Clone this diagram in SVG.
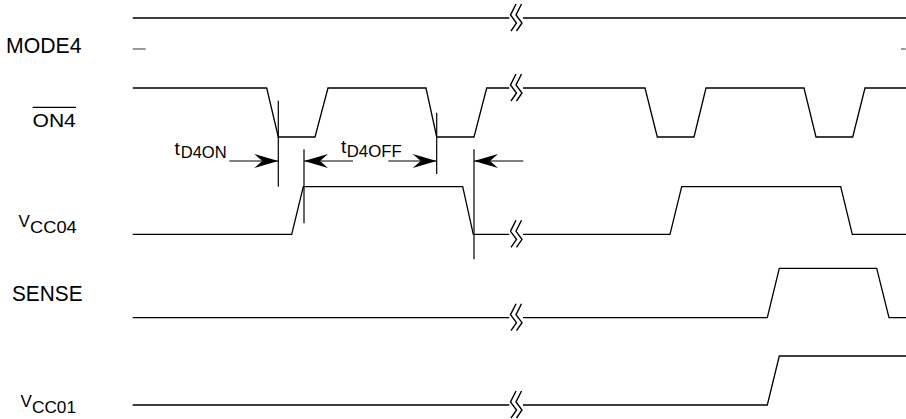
<svg xmlns="http://www.w3.org/2000/svg" xmlns:xlink="http://www.w3.org/1999/xlink" width="906" height="419" viewBox="0 0 906 419">
<style>
.w{fill:none;stroke:#000;stroke-width:1.3;stroke-linejoin:miter}
.m{fill:none;stroke:#000;stroke-width:1.2}
.b{fill:none;stroke:#000;stroke-width:1.4}
.lbl{font-family:"Liberation Sans",Arial,sans-serif;fill:#000}
.dash{stroke:#777;stroke-width:1.5}
</style>
<defs>
<path id="brk" class="b" d="M1,-14 L-4.5,-3 L1.5,5 L-4,13 M6.5,-14 L1,-3 L7,5 L1.5,13"/>
<marker id="ah" markerUnits="userSpaceOnUse" markerWidth="30" markerHeight="20" viewBox="-26 -10 30 20" refX="0" refY="0" orient="auto">
<path d="M0,0 L-24,-7 L-16,0 L-24,7 Z" fill="#000"/>
</marker>
</defs>
<rect width="906" height="419" fill="#fff"/>

<g id="mode4">
<text class="lbl" x="6" y="52.5" font-size="21.5" textLength="75.5" lengthAdjust="spacingAndGlyphs">MODE4</text>
<path class="w" d="M132.7,18 H509.3 M523,18 H906"/>
<use xlink:href="#brk" x="515" y="18"/>
<line class="dash" x1="132.7" y1="49" x2="145.7" y2="49"/>
<line class="dash" x1="901" y1="49" x2="905.7" y2="49"/>
</g>

<g id="on4">
<text class="lbl" x="32.5" y="126.7" font-size="19" textLength="43.3" lengthAdjust="spacingAndGlyphs">ON4</text>
<line x1="32.7" y1="107.3" x2="76" y2="107.3" stroke="#000" stroke-width="1.3"/>
<path class="w" d="M132.7,88 H266.7 L278.3,137 H315 L328,88 H426 L436.7,137 H474 L486.7,88 H509.3 M523,88 H645 L657.3,137 H694 L706,88 H804 L816,137 H852.7 L865,88 H906"/>
<use xlink:href="#brk" x="515" y="88"/>
</g>

<g id="vcc04">
<text class="lbl" x="18.5" y="226.7" font-size="17">V</text>
<text class="lbl" x="30" y="233.3" font-size="16.5" textLength="46.7" lengthAdjust="spacingAndGlyphs">CC04</text>
<path class="w" d="M132.7,234.3 H291.7 L303.3,186.7 H462.7 L473.3,234.3 H509.3 M523,234.3 H670 L681.7,186.7 H840.7 L852.3,234.3 H906"/>
<use xlink:href="#brk" x="515" y="234.3"/>
</g>

<g id="sense">
<text class="lbl" x="12" y="300.7" font-size="21.5" textLength="70.5" lengthAdjust="spacingAndGlyphs">SENSE</text>
<path class="w" d="M132.7,317.7 H509.3 M523,317.7 H767.3 L779.3,268.3 H876.7 L889,317.7 H906"/>
<use xlink:href="#brk" x="515" y="317.7"/>
</g>

<g id="vcc01">
<text class="lbl" x="20.5" y="406.5" font-size="17">V</text>
<text class="lbl" x="32" y="413" font-size="16.5" textLength="44" lengthAdjust="spacingAndGlyphs">CC01</text>
<path class="w" d="M132.7,405 H509.3 M523,405 H767.3 L779.3,356 H906"/>
<use xlink:href="#brk" x="515" y="405"/>
</g>

<g id="tD4ON">
<text class="lbl" x="174.5" y="155" font-size="19">t</text>
<text class="lbl" x="180.7" y="158.3" font-size="16.5" textLength="46" lengthAdjust="spacingAndGlyphs">D4ON</text>
</g>
<g id="tD4OFF">
<text class="lbl" x="341" y="153" font-size="19">t</text>
<text class="lbl" x="346.7" y="156.7" font-size="16.5" textLength="55" lengthAdjust="spacingAndGlyphs">D4OFF</text>
</g>

<g id="connectors">
<line class="m" x1="278.3" y1="100.7" x2="278.3" y2="186.7"/>
<line class="m" x1="304" y1="149.3" x2="304" y2="223.3"/>
<line class="m" x1="436.7" y1="112.7" x2="436.7" y2="174"/>
<line class="m" x1="474" y1="149.3" x2="474" y2="259.3"/>
<line class="m" x1="229.3" y1="161" x2="278.3" y2="161" marker-end="url(#ah)"/>
<line class="m" x1="353" y1="161" x2="304" y2="161" marker-end="url(#ah)"/>
<line class="m" x1="388.3" y1="161" x2="436.7" y2="161" marker-end="url(#ah)"/>
<line class="m" x1="523.3" y1="161" x2="474" y2="161" marker-end="url(#ah)"/>
</g>
</svg>
